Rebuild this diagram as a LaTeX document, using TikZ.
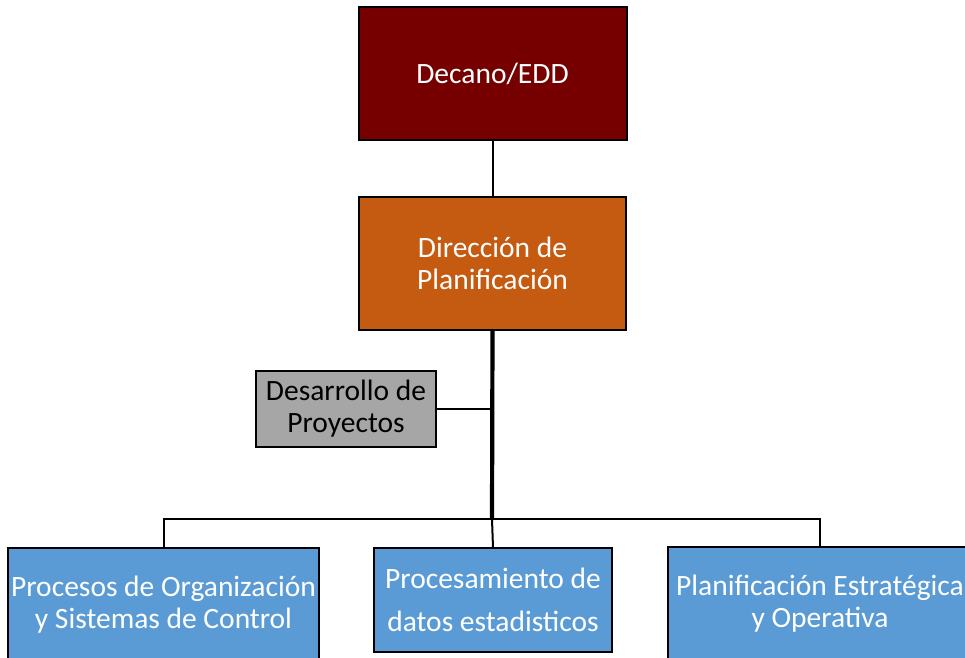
\documentclass[tikz,border=0pt]{standalone}
\usepackage{fontspec}
\setmainfont{Carlito}
\definecolor{deanred}{HTML}{760000}
\definecolor{dirorange}{HTML}{C55A11}
\definecolor{devgray}{HTML}{A6A6A6}
\definecolor{unitblue}{HTML}{5B9BD5}
\begin{document}
\begin{tikzpicture}[x=1pt,y=-1pt,
  box/.style={draw=black,line width=2pt,rectangle,align=center,inner sep=0pt,outer sep=0pt,
    font=\fontsize{29.5}{32}\selectfont},
  conn/.style={line width=2pt,draw=black},
  thickconn/.style={line width=4.2pt,draw=black}]
\useasboundingbox (0,0) rectangle (965,657);
\node[box,fill=deanred,text=white,minimum width=268pt,minimum height=133pt] (dean) at (492.5,73.5) {Decano/EDD};
\node[box,fill=dirorange,text=white,minimum width=267pt,minimum height=133pt] (dir) at (492.5,263) {Dirección de\\Planificación};
\node[box,fill=devgray,text=black,minimum width=180pt,minimum height=76pt] (dev) at (346,409) {Desarrollo de\\Proyectos};
\node[box,fill=unitblue,text=white,minimum width=311pt,minimum height=114pt] (proc) at (163.5,605) {Procesos de Organización\\y Sistemas de Control};
\node[box,fill=unitblue,text=white,minimum width=238pt,minimum height=104pt,font=\fontsize{29.5}{43}\selectfont] (data) at (493,600) {Procesamiento de\\datos estadisticos};
\node[box,fill=unitblue,text=white,minimum width=304pt,minimum height=114pt] (plan) at (820,604) {Planificación Estratégica\\y Operativa};
\coordinate (bus) at (492,519);
\draw[conn] (dean) -- (dir);
\draw[thickconn] (dir.south) -- ([yshift=1pt]bus);
\draw[conn] (dev.east) -- (dev.east -| bus);
\draw[conn] (proc.north) |- (bus) -| (plan.north);
\draw[conn] (bus) -- (data.north);
\end{tikzpicture}
\end{document}
